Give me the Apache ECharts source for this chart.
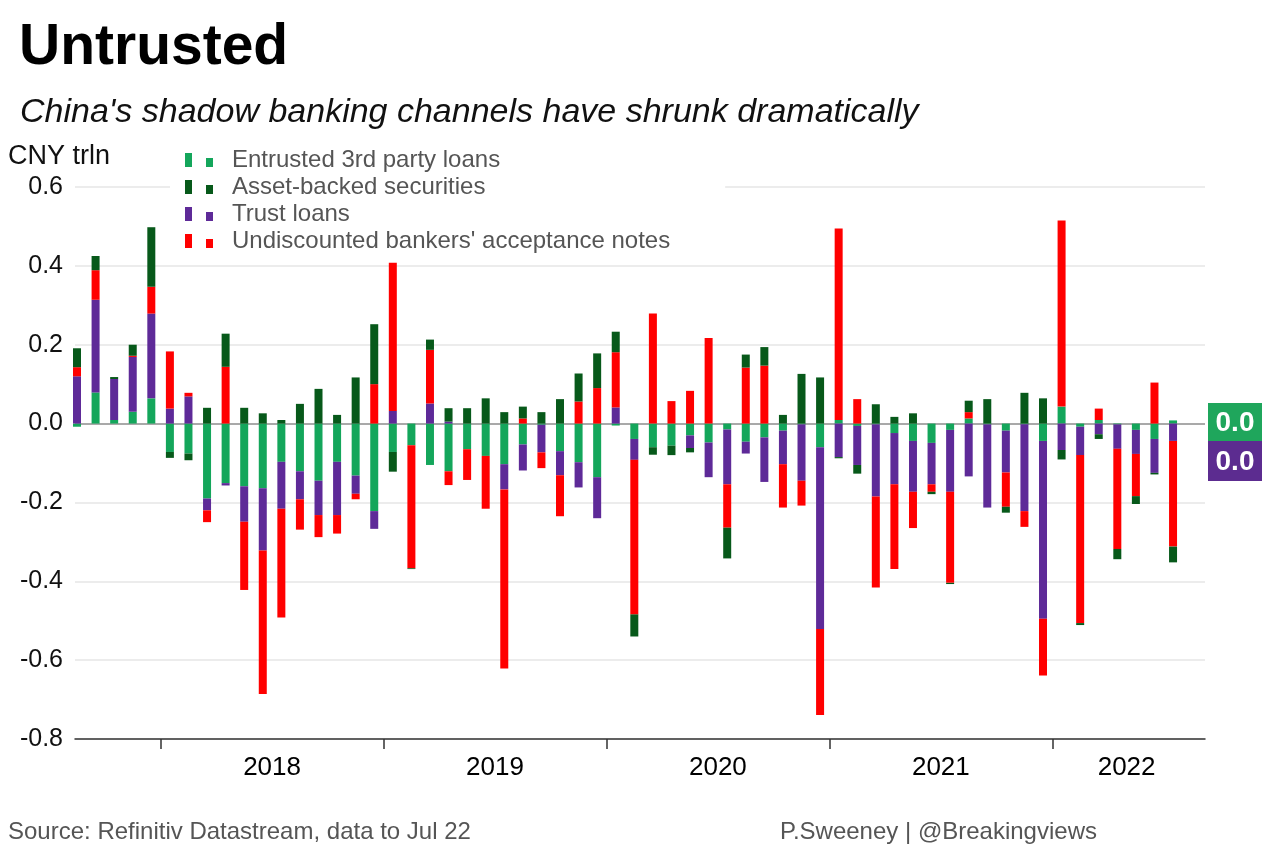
<!DOCTYPE html>
<html><head><meta charset="utf-8">
<script src="https://cdn.jsdelivr.net/npm/echarts@6/dist/echarts.min.js"></script>
<style>html,body{margin:0;padding:0;background:#fff}#c{width:1280px;height:853px}</style>
</head><body><div id="c"></div>
<script>
const months = [
 '2017-08','2017-09','2017-10','2017-11','2017-12',
 '2018-01','2018-02','2018-03','2018-04','2018-05','2018-06','2018-07','2018-08','2018-09','2018-10','2018-11','2018-12',
 '2019-01','2019-02','2019-03','2019-04','2019-05','2019-06','2019-07','2019-08','2019-09','2019-10','2019-11','2019-12',
 '2020-01','2020-02','2020-03','2020-04','2020-05','2020-06','2020-07','2020-08','2020-09','2020-10','2020-11','2020-12',
 '2021-01','2021-02','2021-03','2021-04','2021-05','2021-06','2021-07','2021-08','2021-09','2021-10','2021-11','2021-12',
 '2022-01','2022-02','2022-03','2022-04','2022-05','2022-06','2022-07'
];
// CNY trln
const entrusted = [
 -0.008, 0.079, 0.009, 0.030, 0.064,
 -0.072,-0.076,-0.190,-0.151,-0.159,-0.164,-0.097,-0.121,-0.145,-0.097,-0.132,-0.222,
 -0.072,-0.055,-0.105,-0.121,-0.065,-0.082,-0.103,-0.053,-0.003,-0.070,-0.098,-0.136,
 -0.005,-0.039,-0.060,-0.056,-0.030,-0.048,-0.015,-0.046,-0.035,-0.018,-0.002,-0.060,
  0.009,-0.006,-0.002,-0.024,-0.044,-0.049,-0.016, 0.013,-0.002,-0.018,-0.002,-0.044,
  0.043,-0.008, 0.009,-0.002,-0.016,-0.039, 0.008
];
const abs = [
  0.048, 0.036, 0.005, 0.028, 0.151,
 -0.015,-0.017, 0.040, 0.084, 0.040, 0.026, 0.009, 0.050, 0.088, 0.022, 0.117, 0.152,
 -0.050,-0.002, 0.026, 0.034, 0.039, 0.064, 0.029, 0.030, 0.029, 0.062, 0.071, 0.088,
  0.052,-0.056,-0.019,-0.024,-0.011, 0.000,-0.078, 0.033, 0.047, 0.022, 0.126, 0.117,
 -0.003,-0.022, 0.049, 0.017, 0.026,-0.006,-0.003, 0.029, 0.062,-0.015, 0.078, 0.064,
 -0.024,-0.005,-0.012,-0.026,-0.020,-0.004,-0.040
];
const trust = [
  0.120, 0.235, 0.104, 0.139, 0.215,
  0.038, 0.069,-0.030,-0.006,-0.090,-0.158,-0.119,-0.071,-0.087,-0.135,-0.046,-0.045,
  0.032, 0.000, 0.051, 0.005, 0.000, 0.000,-0.064,-0.066,-0.070,-0.061,-0.064,-0.104,
  0.041,-0.053, 0.000, 0.000,-0.032,-0.088,-0.139,-0.030,-0.113,-0.085,-0.143,-0.461,
 -0.085,-0.099,-0.183,-0.130,-0.129,-0.105,-0.157,-0.134,-0.211,-0.106,-0.220,-0.451,
 -0.067,-0.072,-0.027,-0.062,-0.061,-0.086,-0.044
];
const undisc = [
  0.023, 0.075, 0.000, 0.003, 0.068,
  0.145, 0.009,-0.030, 0.144,-0.173,-0.364,-0.276,-0.077,-0.056,-0.047,-0.014, 0.100,
  0.376,-0.312, 0.136,-0.035,-0.078,-0.134,-0.454, 0.013,-0.040,-0.104, 0.056, 0.090,
  0.140,-0.392, 0.279, 0.057, 0.083, 0.217,-0.110, 0.142, 0.147,-0.110,-0.063,-0.218,
  0.486, 0.062,-0.231,-0.215,-0.092,-0.019,-0.231, 0.016, 0.000,-0.087,-0.040,-0.144,
  0.472,-0.426, 0.029,-0.254,-0.107, 0.104,-0.268
];
const yearLabels = ['2018','2019','2020','2021','2022'];
const yearLabelPos = [18, 30, 42, 54, 64];   // months since Jan 2017 (label centres)
const yearTickPos = [12, 24, 36, 48, 60];    // year boundaries
const xRange = [7.392, 68.22];               // months since Jan 2017
const yTicks = { min: -0.8, max: 0.6, interval: 0.2 };

function fmt1(v){ const r = Math.round(v*10)/10; return Math.abs(r) < 1e-9 ? '0.0' : r.toFixed(1); }

const C = { ent:'#14a65b', abs:'#07591a', trust:'#5e2a98', und:'#ff0000' };
const FONT = '"Liberation Sans", Arial, sans-serif';

// grid geometry: visible axis frame and the bar band grid (aligned to month centres)
const G = { left:75, right:75, top:187, bottom:114 };
const plotW = 1280 - G.left - G.right;
const pxPerMonth = plotW / (xRange[1] - xRange[0]);
const barLeft = G.left + (7.0 - xRange[0]) * pxPerMonth;          // start of Aug 2017 band
const barRight = barLeft + months.length * pxPerMonth;

const nTicks = Math.round((yTicks.max - yTicks.min) / yTicks.interval) + 1;
const splitColors = [];
for (let i = 0; i < nTicks; i++) {
  const v = yTicks.min + i * yTicks.interval;
  splitColors.push(Math.abs(v) < 1e-9 ? '#8c8c8c' : '#e6e6e6');
}

const chart = echarts.init(document.getElementById('c'), null, {renderer:'canvas'});
const icon = 'path://M0,0h7v14h-7zM21,5h7v9h-7z';

function bar(name, vals, color){
  return {
    name, type:'bar', stack:'all', data: vals, barWidth: 8,
    xAxisIndex:1, yAxisIndex:1,
    itemStyle:{ color }, emphasis:{ disabled:true }
  };
}

chart.setOption({
  backgroundColor:'#fff',
  animation:false,
  textStyle:{ fontFamily: FONT },
  title:[
    { text:'Untrusted', left:19, top:20, padding:0,
      textStyle:{ fontFamily:FONT, fontWeight:'bold', fontSize:57, color:'#000' } },
    { text:"China's shadow banking channels have shrunk dramatically", left:20, top:96, padding:0,
      textStyle:{ fontFamily:FONT, fontStyle:'italic', fontWeight:'normal', fontSize:34, color:'#111' } },
    { text:'CNY trln', left:8, top:143, padding:0,
      textStyle:{ fontFamily:FONT, fontWeight:'normal', fontSize:27, color:'#111' } },
    { text:'Source: Refinitiv Datastream, data to Jul 22', left:8, top:820, padding:0,
      textStyle:{ fontFamily:FONT, fontWeight:'normal', fontSize:24, color:'#555' } },
    { text:'P.Sweeney | @Breakingviews', left:780, top:820, padding:0,
      textStyle:{ fontFamily:FONT, fontWeight:'normal', fontSize:24, color:'#555' } }
  ],
  legend:{
    orient:'vertical', left:170, top:144, padding:[4,55,6,15],
    backgroundColor:'#fff', itemGap:3, itemWidth:28, itemHeight:14, icon,
    selectedMode:false,
    data:['Entrusted 3rd party loans','Asset-backed securities','Trust loans',"Undiscounted bankers' acceptance notes"],
    textStyle:{ fontFamily:FONT, fontSize:24, color:'#555', lineHeight:24, padding:[0,0,0,14] }
  },
  grid:[
    { left:G.left, right:G.right, top:G.top, bottom:G.bottom },
    { left:barLeft, right:1280 - barRight, top:G.top, bottom:G.bottom }
  ],
  xAxis:[
    {
      type:'value', gridIndex:0, min:xRange[0], max:xRange[1],
      axisLine:{ show:true, onZero:false, lineStyle:{ color:'#333', width:1.5 } },
      axisTick:{ show:true, customValues: yearTickPos, length:10, lineStyle:{ color:'#333', width:1.5 } },
      axisLabel:{ customValues: yearLabelPos, margin:16, fontFamily:FONT, fontSize:26, color:'#000',
        formatter:(v)=>{ let b=0; yearLabelPos.forEach((p,i)=>{ if(Math.abs(p-v)<Math.abs(yearLabelPos[b]-v)) b=i; }); return yearLabels[b]; } },
      splitLine:{ show:false }
    },
    { type:'category', gridIndex:1, data: months, show:false, boundaryGap:true }
  ],
  yAxis:[
    {
      type:'value', gridIndex:0, min:yTicks.min, max:yTicks.max, interval:yTicks.interval,
      axisLine:{ show:false }, axisTick:{ show:false },
      axisLabel:{ margin:12, fontFamily:FONT, fontSize:25, color:'#111', formatter:fmt1 },
      splitLine:{ lineStyle:{ color:splitColors, width:1.5 } }
    },
    { type:'value', gridIndex:1, min:yTicks.min, max:yTicks.max, interval:yTicks.interval, show:false,
      splitLine:{ show:false } }
  ],
  series:[
    bar('Entrusted 3rd party loans', entrusted, C.ent),
    bar('Trust loans', trust, C.trust),
    bar("Undiscounted bankers' acceptance notes", undisc, C.und),
    bar('Asset-backed securities', abs, C.abs)
  ],
  graphic:[
    { type:'rect', shape:{ x:1208, y:403, width:54, height:38 }, style:{ fill:'#1fa65c' } },
    { type:'text', x:1235, y:423, style:{ text: fmt1(entrusted[entrusted.length-1]), fill:'#fff',
        font:'bold 28px "Liberation Sans", Arial, sans-serif', align:'center', verticalAlign:'middle' } },
    { type:'rect', shape:{ x:1208, y:441, width:54, height:40 }, style:{ fill:'#5c2c90' } },
    { type:'text', x:1235, y:462, style:{ text: fmt1(trust[trust.length-1]), fill:'#fff',
        font:'bold 28px "Liberation Sans", Arial, sans-serif', align:'center', verticalAlign:'middle' } }
  ]
});
</script></body></html>
